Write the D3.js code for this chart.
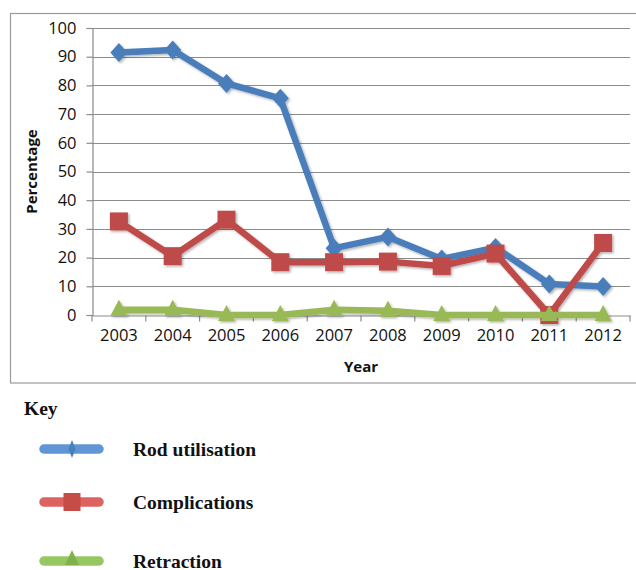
<!DOCTYPE html>
<html>
<head>
<meta charset="utf-8">
<script src="https://cdn.jsdelivr.net/npm/d3@7"></script>
<style>
  body { margin: 0; background: #fff; }
  svg { display: block; }
</style>
</head>
<body>
<div id="chart"></div>
<script>
const years = ["2003", "2004", "2005", "2006", "2007", "2008", "2009", "2010", "2011", "2012"];
const rodUtilisation = [91.5, 92.3, 80.7, 75.5, 23.3, 27.2, 19.5, 23.5, 10.8, 9.9];
const complications = [32.6, 20.5, 33.2, 18.4, 18.4, 18.6, 17.1, 21.4, 0, 25.1];
const retraction = [1.8, 1.8, 0, 0, 1.8, 1.5, 0, 0, 0, 0];
const yTicks = [0, 10, 20, 30, 40, 50, 60, 70, 80, 90, 100];

const series = [
  { name: "Rod utilisation", values: rodUtilisation, colour: "#4a7ebb", symbol: "diamond" },
  { name: "Complications", values: complications, colour: "#be4b48", symbol: "square" },
  { name: "Retraction", values: retraction, colour: "#98b954", symbol: "triangle" }
];

const width = 636, height = 570;
const margins = { top: 28, right: 6, bottom: 255, left: 92 };

const svg = d3.select("#chart").append("svg")
  .attr("width", width)
  .attr("height", height);

const defs = svg.append("defs");
const shadow = defs.append("filter").attr("id", "shadow")
  .attr("x", "-20%").attr("y", "-20%").attr("width", "140%").attr("height", "140%");
shadow.append("feDropShadow")
  .attr("dx", 1.5).attr("dy", 1.5).attr("stdDeviation", 1.2)
  .attr("flood-color", "#000").attr("flood-opacity", 0.3);

// outer chart frame
svg.append("rect")
  .attr("x", 10.5).attr("y", 13.5)
  .attr("width", 640).attr("height", 369.5)
  .attr("fill", "none")
  .attr("stroke", "#9a9a9a")
  .attr("stroke-width", 1.2);

const x = d3.scaleBand()
  .domain(years)
  .range([margins.left, width - margins.right]);

const y = d3.scaleLinear()
  .domain([0, 100])
  .range([height - margins.bottom, margins.top]);

// gridlines
svg.append("g")
  .selectAll("line")
  .data(yTicks.filter(d => d > 0))
  .join("line")
  .attr("x1", margins.left)
  .attr("x2", width - margins.right)
  .attr("y1", d => Math.round(y(d)) + 0.5)
  .attr("y2", d => Math.round(y(d)) + 0.5)
  .attr("stroke", "#8c8c8c")
  .attr("stroke-width", 1.2);

// y axis
const yAxis = svg.append("g")
  .attr("transform", `translate(${margins.left + 0.5},0)`)
  .call(d3.axisLeft(y).tickValues(yTicks).tickSize(6).tickPadding(10).tickFormat(d3.format("d")));
yAxis.select(".domain").attr("stroke", "#8c8c8c").attr("stroke-width", 1.2);
yAxis.selectAll(".tick line").attr("stroke", "#8c8c8c").attr("stroke-width", 1.2);
yAxis.selectAll("text")
  .attr("font-family", "'Open Sans', sans-serif")
  .attr("font-size", 16.5)
  .attr("fill", "#111");

// x axis, ticks between the categories
const xAxis = svg.append("g")
  .attr("transform", `translate(0,${Math.round(y(0)) + 0.5})`)
  .call(d3.axisBottom(x).tickSize(0).tickPadding(14));
xAxis.select(".domain").attr("stroke", "#8c8c8c").attr("stroke-width", 1.2);
xAxis.selectAll("text")
  .attr("font-family", "'Open Sans', sans-serif")
  .attr("font-size", 16.5)
  .attr("fill", "#111");
xAxis.append("g")
  .selectAll("line")
  .data(years.concat(["end"]))
  .join("line")
  .attr("x1", (d, i) => margins.left + i * x.step())
  .attr("x2", (d, i) => margins.left + i * x.step())
  .attr("y1", 0)
  .attr("y2", 6)
  .attr("stroke", "#8c8c8c")
  .attr("stroke-width", 1.2);

// axis titles
svg.append("text")
  .attr("transform", `translate(37,${(y(0) + y(100)) / 2}) rotate(-90)`)
  .attr("text-anchor", "middle")
  .attr("font-family", "'Open Sans', sans-serif")
  .attr("font-weight", "bold")
  .attr("font-size", 15)
  .attr("fill", "#111")
  .text("Percentage");

svg.append("text")
  .attr("x", (margins.left + width - margins.right) / 2)
  .attr("y", 372)
  .attr("text-anchor", "middle")
  .attr("font-family", "'Open Sans', sans-serif")
  .attr("font-weight", "bold")
  .attr("font-size", 15)
  .attr("fill", "#111")
  .text("Year");

// marker shapes, drawn around 0,0
const markerPath = {
  diamond: "M0,-9.5L8.5,0L0,9.5L-8.5,0Z",
  square: "M-9,-9H9V9H-9Z",
  triangle: "M0,-10L8.5,6L-8.5,6Z"
};

const line = d3.line()
  .x((d, i) => x(years[i]) + x.bandwidth() / 2)
  .y(d => y(d));

const plot = svg.append("g").attr("filter", "url(#shadow)");

series.forEach(s => {
  const g = plot.append("g");
  g.append("path")
    .datum(s.values)
    .attr("d", line)
    .attr("fill", "none")
    .attr("stroke", s.colour)
    .attr("stroke-width", 6.5)
    .attr("stroke-linejoin", "round");
  g.selectAll("path.marker")
    .data(s.values)
    .join("path")
    .attr("class", "marker")
    .attr("transform", (d, i) => `translate(${x(years[i]) + x.bandwidth() / 2},${y(d)})`)
    .attr("d", markerPath[s.symbol])
    .attr("fill", s.colour);
});

// key
svg.append("text")
  .attr("x", 24)
  .attr("y", 415)
  .attr("font-family", "'Liberation Serif', 'Times New Roman', serif")
  .attr("font-weight", "bold")
  .attr("font-size", 19.5)
  .attr("fill", "#111")
  .text("Key");

const keyY = [449, 502, 561];
const legendColours = ["#4f8bd0", "#d9534f", "#8cc152"];
const legendMarker = {
  diamond: "M0,-9L3.5,0L0,9L-3.5,0Z",
  square: "M-8.5,-9H8.5V9H-8.5Z",
  triangle: "M0,-11L7,4L-7,4Z"
};
const key = svg.append("g")
  .selectAll("g")
  .data(series)
  .join("g")
  .attr("transform", (d, i) => `translate(0,${keyY[i]})`);

key.append("line")
  .attr("x1", 44).attr("x2", 99)
  .attr("y1", 0).attr("y2", 0)
  .attr("stroke", (d, i) => legendColours[i])
  .attr("stroke-width", 9.5)
  .attr("stroke-linecap", "round")
  .attr("opacity", 0.9);

key.append("path")
  .attr("transform", "translate(72,0)")
  .attr("d", d => legendMarker[d.symbol])
  .attr("fill", (d, i) => d3.color(legendColours[i]).darker(0.25));

key.append("text")
  .attr("x", 133)
  .attr("y", 6.5)
  .attr("font-family", "'Liberation Serif', 'Times New Roman', serif")
  .attr("font-weight", "bold")
  .attr("font-size", 19.5)
  .attr("fill", "#111")
  .text(d => d.name);
</script>
</body>
</html>
